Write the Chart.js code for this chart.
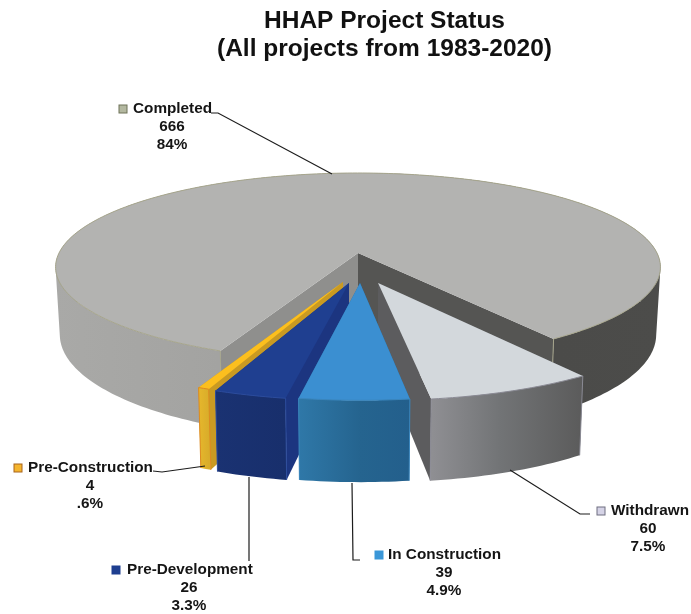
<!DOCTYPE html>
<html>
<head>
<meta charset="utf-8">
<style>html,body{margin:0;padding:0;background:#fff}canvas{display:block}</style>
<script src="https://cdn.jsdelivr.net/npm/chart.js@4/dist/chart.umd.min.js"></script>
</head>
<body>
<canvas id="c" width="691" height="614"></canvas>
<script>
const categories = ['Completed', 'Withdrawn', 'In Construction', 'Pre-Development', 'Pre-Construction'];
const projectCounts = [666, 60, 39, 26, 4];
const percentLabels = ['84%', '7.5%', '4.9%', '3.3%', '.6%'];
const titleLines = ['HHAP Project Status', '(All projects from 1983-2020)'];

const topColors = ['#b3b3b1', '#d3d8dc', '#3b8fd1', '#1f3f90', '#fcbf1e'];
const edgeColors = ['#a6a58c', '#8a8a94', '#3a86bd', '#2c4c9c', '#dd8a20'];
const markerColors = ['#b3b8a0', '#d5d3e6', '#3b97d8', '#1f3f90', '#f5b52e'];
const markerEdges = ['#6e7358', '#6f6f80', '#3b97d8', '#1f3f90', '#a8641c'];
const sideColors = [['#8f8f8d', '#555553'], ['#5c5c5e', '#5c5c5e'], ['#2a6c9c', '#2a6c9c'], ['#1c3580', '#1c3580'], ['#c99a22', '#c99a22']];
const rimStops = [
  [[0, '#a9a9a7'], [0.27, '#a3a3a1'], [0.5, '#7c7c7a'], [0.66, '#4a4a48'], [1, '#4c4c4a']],
  [[0, '#8f8f93'], [0.45, '#727476'], [1, '#5b5b5b']],
  [[0, '#2f78a8'], [0.55, '#25648f'], [1, '#235f8c']],
  [[0, '#1a3272'], [1, '#182f6c']],
  [[0, '#e6b72c'], [1, '#d9ad2a']]
];

/* how far each slice is pulled out of the pie and its radius, as fractions of the radius */
const pullX = [0, 0.064, 0.0064, -0.0287, -0.048];
const pullY = [0, 0.311, 0.311, 0.311, 0.30];
const radiusShare = [1, 0.98, 0.98, 0.98, 0.98];

const view = { cx: 358, cy: 253, radius: 299, tilt: 92, perspective: 0.15, depth: 66, shrink: 0.014 };

const callouts = [
  { markerX: 123, textX: 133, textY: 109, midX: 172, leader: [[211, 113], [218, 113], [332, 174]] },
  { markerX: 601, textX: 611, textY: 511, midX: 648, leader: [[590, 514], [580, 514], [510, 470]] },
  { markerX: 379, textX: 388, textY: 555, midX: 444, leader: [[360, 560], [353, 560], [352, 483]] },
  { markerX: 116, textX: 127, textY: 570, midX: 189, leader: [[249, 561], [249, 477]] },
  { markerX: 18, textX: 28, textY: 468, midX: 90, leader: [[153, 471], [162, 472], [205, 466]] }
];

function project(x, y, z) {
  const s = 1 / (1 - view.perspective * y);
  const low = z ? 1 - view.shrink : 1;
  return [view.cx + view.radius * x * s * low, view.cy + view.tilt * y * s + (z || 0) * s];
}

function trace(ctx, pts, open) {
  ctx.beginPath();
  pts.forEach((p, i) => i ? ctx.lineTo(p[0], p[1]) : ctx.moveTo(p[0], p[1]));
  if (!open) ctx.closePath();
}

function signedArea(q) {
  let a = 0;
  q.forEach((p, i) => {
    const n = q[(i + 1) % q.length];
    a += p[0] * n[1] - n[0] * p[1];
  });
  return a;
}

function sliceShape(arc, i) {
  const start = arc.startAngle, end = arc.endAngle, r = radiusShare[i];
  const steps = Math.max(2, Math.ceil((end - start) / 0.02));
  const rim = [];
  for (let k = 0; k <= steps; k++) {
    const a = start + (end - start) * k / steps;
    rim.push([pullX[i] + r * Math.cos(a), pullY[i] + r * Math.sin(a)]);
  }
  return { rim, apex: [pullX[i], pullY[i]] };
}

function drawSlice(ctx, arc, i) {
  const { rim, apex } = sliceShape(arc, i);
  const d = view.depth;
  const topRim = rim.map(p => project(p[0], p[1]));
  const lowRim = rim.map(p => project(p[0], p[1], d));
  const apexTop = project(apex[0], apex[1]);
  const apexLow = project(apex[0], apex[1], d);

  // cut faces
  const first = rim[0], last = rim[rim.length - 1];
  [[first, sideColors[i][0]], [last, sideColors[i][1]]].forEach(([edge, col]) => {
    trace(ctx, [apexTop, project(edge[0], edge[1]), project(edge[0], edge[1], d), apexLow]);
    ctx.fillStyle = col;
    ctx.fill();
  });

  // outer wall: same-wound strips in one path, so folds at the silhouette stay filled
  const xs = topRim.map(p => p[0]);
  const g = ctx.createLinearGradient(Math.min(...xs), 0, Math.max(...xs), 0);
  rimStops[i].forEach(s => g.addColorStop(s[0], s[1]));
  ctx.fillStyle = g;
  ctx.beginPath();
  for (let k = 0; k < rim.length - 1; k++) {
    let q = [topRim[k], topRim[k + 1], lowRim[k + 1], lowRim[k]];
    if (signedArea(q) < 0) q = q.reverse();
    q.forEach((p, n) => n ? ctx.lineTo(p[0], p[1]) : ctx.moveTo(p[0], p[1]));
    ctx.closePath();
  }
  ctx.fill();

  // vertical seams of the outer wall
  ctx.strokeStyle = edgeColors[i];
  ctx.lineWidth = 1;
  [first, last].forEach(edge => {
    trace(ctx, [project(edge[0], edge[1]), project(edge[0], edge[1], d)], true);
    ctx.stroke();
  });

  // top face
  trace(ctx, [apexTop].concat(topRim));
  ctx.fillStyle = topColors[i];
  ctx.fill();
  trace(ctx, topRim, true);
  ctx.stroke();
}

function frontDistance(arc) {
  const off = (arc.startAngle + arc.endAngle) / 2 - Math.PI / 2;
  return Math.abs(off - Math.round(off / (2 * Math.PI)) * 2 * Math.PI);
}

const pie3d = {
  id: 'pie3d',
  beforeDatasetsDraw(chart) {
    const ctx = chart.ctx;
    const arcs = chart.getDatasetMeta(0).data.map(a => a.getProps(['startAngle', 'endAngle']));
    const order = arcs.map((a, i) => i).sort((p, q) => {
      if (p === 0) return -1;
      if (q === 0) return 1;
      return frontDistance(arcs[q]) - frontDistance(arcs[p]);
    });
    ctx.save();
    order.forEach(i => drawSlice(ctx, arcs[i], i));
    ctx.restore();
    return false;
  },
  afterDraw(chart) {
    const ctx = chart.ctx;
    ctx.save();
    ctx.font = 'bold 15.3px "Liberation Sans", Arial, sans-serif';
    ctx.textBaseline = 'middle';
    categories.forEach((name, i) => {
      const c = callouts[i];
      ctx.strokeStyle = '#1c1c1c';
      ctx.lineWidth = 1.2;
      trace(ctx, c.leader, true);
      ctx.stroke();

      ctx.fillStyle = markerColors[i];
      ctx.strokeStyle = markerEdges[i];
      ctx.lineWidth = 1;
      ctx.fillRect(c.markerX - 4, c.textY - 4, 8, 8);
      ctx.strokeRect(c.markerX - 4, c.textY - 4, 8, 8);

      ctx.fillStyle = '#151515';
      ctx.textAlign = 'left';
      ctx.fillText(name, c.textX, c.textY);
      ctx.textAlign = 'center';
      ctx.fillText(String(projectCounts[i]), c.midX, c.textY + 18);
      ctx.fillText(percentLabels[i], c.midX, c.textY + 35.5);
    });
    ctx.restore();
  }
};

new Chart(document.getElementById('c'), {
  type: 'pie',
  data: {
    labels: categories,
    datasets: [{ data: projectCounts, backgroundColor: topColors, borderWidth: 0 }]
  },
  options: {
    responsive: false,
    animation: false,
    rotation: 203.4,
    layout: { padding: { left: 78 } },
    events: [],
    plugins: {
      legend: { display: false },
      tooltip: { enabled: false },
      title: {
        display: true,
        text: titleLines,
        color: '#111',
        font: { family: '"Liberation Sans", Arial, sans-serif', size: 24.5, weight: 'bold', lineHeight: 1.15 },
        padding: { top: 7, bottom: 0 }
      }
    }
  },
  plugins: [pie3d]
});
</script>
</body>
</html>
